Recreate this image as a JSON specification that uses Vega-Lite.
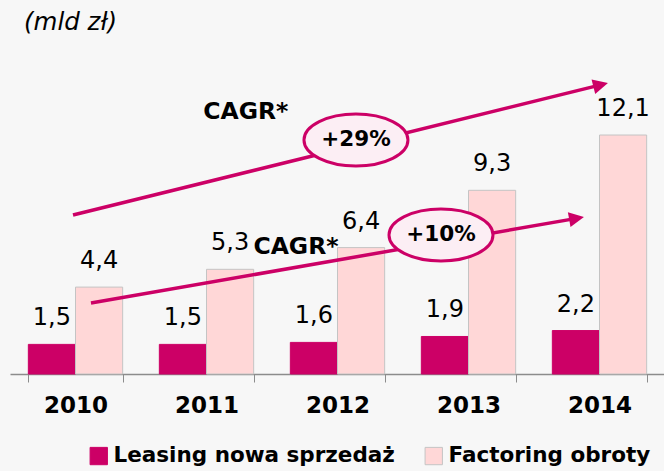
{
  "$schema": "https://vega.github.io/schema/vega-lite/v6.json",
  "autosize": "none",
  "width": 655,
  "height": 316,
  "padding": {"left": 10, "top": 58, "right": 0, "bottom": 97},
  "background": "#F7F7F7",
  "config": {
    "view": {"stroke": null},
    "font": "DejaVu Sans",
    "text": {"font": "DejaVu Sans"}
  },
  "title": {
    "text": "(mld zł)",
    "anchor": "start",
    "frame": "group",
    "font": "DejaVu Sans",
    "fontStyle": "italic",
    "fontWeight": "normal",
    "fontSize": 24.5,
    "color": "#000000",
    "offset": 23,
    "dx": 14
  },
  "datasets": {
    "bars": [
      {"year": "2010", "series": "Leasing nowa sprzedaż", "value": 1.5, "label": "1,5"},
      {"year": "2010", "series": "Factoring obroty", "value": 4.4, "label": "4,4"},
      {"year": "2011", "series": "Leasing nowa sprzedaż", "value": 1.5, "label": "1,5"},
      {"year": "2011", "series": "Factoring obroty", "value": 5.3, "label": "5,3"},
      {"year": "2012", "series": "Leasing nowa sprzedaż", "value": 1.6, "label": "1,6"},
      {"year": "2012", "series": "Factoring obroty", "value": 6.4, "label": "6,4"},
      {"year": "2013", "series": "Leasing nowa sprzedaż", "value": 1.9, "label": "1,9"},
      {"year": "2013", "series": "Factoring obroty", "value": 9.3, "label": "9,3"},
      {"year": "2014", "series": "Leasing nowa sprzedaż", "value": 2.2, "label": "2,2"},
      {"year": "2014", "series": "Factoring obroty", "value": 12.1, "label": "12,1"}
    ],
    "arrows": [
      {"id": "a1", "o": 0, "ax": 0.481, "ay": 8.05},
      {"id": "a1", "o": 1, "ax": 4.509, "ay": 14.64},
      {"id": "a2", "o": 0, "ax": 0.618, "ay": 3.59},
      {"id": "a2", "o": 1, "ax": 4.325, "ay": 7.88}
    ],
    "heads": [
      {"id": "a1", "ax": 4.509, "ay": 14.64, "angle": 346.1},
      {"id": "a2", "ax": 4.325, "ay": 7.88, "angle": 349.9}
    ],
    "ellipses": [
      {"ax": 2.641, "ay": 11.85, "text": "+29%"},
      {"ax": 3.290, "ay": 7.04, "text": "+10%"}
    ],
    "cagr": [
      {"ax": 1.80, "ay": 13.27, "text": "CAGR*"},
      {"ax": 2.183, "ay": 6.43, "text": "CAGR*"}
    ]
  },
  "resolve": {"scale": {"x": "independent"}},
  "layer": [
    {
      "data": {"name": "bars"},
      "mark": {"type": "bar", "strokeWidth": 1},
      "encoding": {
        "x": {
          "field": "year", "type": "nominal",
          "scale": {"paddingInner": 0.28, "paddingOuter": 0.14},
          "axis": {
            "title": null, "labelAngle": 0,
            "labelFont": "DejaVu Sans",
            "labelFontSize": 23, "labelFontWeight": "bold", "labelColor": "#000000",
            "domainColor": "#8C8C8C", "domainWidth": 1.5,
            "tickColor": "#8C8C8C", "tickWidth": 1, "tickSize": 8,
            "tickBand": "extent", "labelPadding": 12
          }
        },
        "xOffset": {"field": "series", "type": "nominal", "sort": ["Leasing nowa sprzedaż", "Factoring obroty"], "scale": {"paddingInner": 0, "paddingOuter": 0}},
        "y": {"field": "value", "type": "quantitative", "scale": {"domain": [0, 16], "nice": false}, "axis": null},
        "color": {
          "field": "series", "type": "nominal",
          "scale": {"domain": ["Leasing nowa sprzedaż", "Factoring obroty"], "range": ["#CC0066", "#FFD7D7"]},
          "legend": {
            "title": null, "orient": "none", "direction": "horizontal",
            "legendX": 78, "legendY": 387,
            "symbolType": "square", "symbolSize": 300, "symbolStrokeWidth": 1,
            "labelFont": "DejaVu Sans",
            "labelFontSize": 21.5, "labelFontWeight": "bold", "labelColor": "#000000",
            "labelOffset": 4, "columnPadding": 28, "labelLimit": 400
          }
        },
        "stroke": {
          "field": "series", "type": "nominal",
          "scale": {"domain": ["Leasing nowa sprzedaż", "Factoring obroty"], "range": ["#CC0066", "#C4C4C4"]},
          "legend": {
            "title": null, "orient": "none", "direction": "horizontal",
            "legendX": 78, "legendY": 387,
            "symbolType": "square", "symbolSize": 300, "symbolStrokeWidth": 1,
            "labelFont": "DejaVu Sans",
            "labelFontSize": 21.5, "labelFontWeight": "bold", "labelColor": "#000000",
            "labelOffset": 4, "columnPadding": 28, "labelLimit": 400
          }
        }
      }
    },
    {
      "data": {"name": "bars"},
      "mark": {"type": "text", "fontSize": 24, "baseline": "alphabetic", "dy": -19, "color": "#000000"},
      "encoding": {
        "x": {"field": "year", "type": "nominal", "scale": {"paddingInner": 0.28, "paddingOuter": 0.14}, "axis": null},
        "xOffset": {"field": "series", "type": "nominal", "sort": ["Leasing nowa sprzedaż", "Factoring obroty"], "scale": {"paddingInner": 0, "paddingOuter": 0}},
        "y": {"field": "value", "type": "quantitative", "scale": {"domain": [0, 16], "nice": false}, "axis": null},
        "text": {"field": "label"}
      }
    },
    {
      "data": {"name": "arrows"},
      "mark": {"type": "line", "color": "#CC0066", "strokeWidth": 3.5, "strokeCap": "butt"},
      "encoding": {
        "x": {"field": "ax", "type": "quantitative", "scale": {"domain": [0, 5], "nice": false}, "axis": null},
        "y": {"field": "ay", "type": "quantitative", "scale": {"domain": [0, 16], "nice": false}, "axis": null},
        "detail": {"field": "id"},
        "order": {"field": "o"}
      }
    },
    {
      "data": {"name": "heads"},
      "mark": {"type": "point", "shape": "M -1 -1 L 1 0 L -1 1 Z", "size": 225, "filled": true, "color": "#CC0066", "opacity": 1},
      "encoding": {
        "x": {"field": "ax", "type": "quantitative", "scale": {"domain": [0, 5], "nice": false}, "axis": null},
        "y": {"field": "ay", "type": "quantitative", "scale": {"domain": [0, 16], "nice": false}, "axis": null},
        "angle": {"field": "angle", "type": "quantitative", "scale": null}
      }
    },
    {
      "data": {"name": "ellipses"},
      "mark": {"type": "point", "shape": "M -1 0 C -1 -0.276 -0.552 -0.5 0 -0.5 C 0.552 -0.5 1 -0.276 1 0 C 1 0.276 0.552 0.5 0 0.5 C -0.552 0.5 -1 0.276 -1 0 Z", "size": 10816, "filled": true, "fill": "#FCEEF4", "stroke": "#CC0066", "strokeWidth": 3, "opacity": 1, "fillOpacity": 1, "strokeOpacity": 1},
      "encoding": {
        "x": {"field": "ax", "type": "quantitative", "scale": {"domain": [0, 5], "nice": false}, "axis": null},
        "y": {"field": "ay", "type": "quantitative", "scale": {"domain": [0, 16], "nice": false}, "axis": null}
      }
    },
    {
      "data": {"name": "ellipses"},
      "mark": {"type": "text", "fontSize": 21.5, "fontWeight": "bold", "align": "center", "baseline": "middle", "color": "#000000"},
      "encoding": {
        "x": {"field": "ax", "type": "quantitative", "scale": {"domain": [0, 5], "nice": false}, "axis": null},
        "y": {"field": "ay", "type": "quantitative", "scale": {"domain": [0, 16], "nice": false}, "axis": null},
        "text": {"field": "text"}
      }
    },
    {
      "data": {"name": "cagr"},
      "mark": {"type": "text", "fontSize": 23.5, "fontWeight": "bold", "align": "center", "baseline": "middle", "color": "#000000"},
      "encoding": {
        "x": {"field": "ax", "type": "quantitative", "scale": {"domain": [0, 5], "nice": false}, "axis": null},
        "y": {"field": "ay", "type": "quantitative", "scale": {"domain": [0, 16], "nice": false}, "axis": null},
        "text": {"field": "text"}
      }
    }
  ]
}
